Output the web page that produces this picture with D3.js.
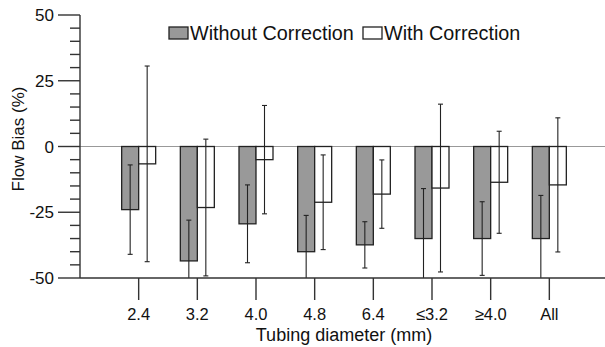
<!DOCTYPE html>
<html>
<head>
<meta charset="utf-8">
<script src="https://cdn.jsdelivr.net/npm/d3@7"></script>
<style>
  body { margin: 0; background: #fff; }
  text { font-family: "Liberation Sans", Arial, Helvetica, sans-serif; fill: #111; }
</style>
</head>
<body>
<div id="chart"></div>
<script>
const categories = ["2.4", "3.2", "4.0", "4.8", "6.4", "\u22643.2", "\u22654.0", "All"];
const withoutCorrection = [-24.0, -43.5, -29.4, -40.0, -37.4, -35.0, -35.0, -35.0];
const withoutErr = [17.0, 15.5, 14.8, 13.8, 8.8, 19.0, 14.0, 16.4];
const withCorrection = [-6.6, -23.2, -5.0, -21.2, -18.1, -15.8, -13.6, -14.6];
const withErr = [37.2, 26.0, 20.6, 18.0, 13.0, 31.9, 19.4, 25.5];
const yTicks = [-50, -25, 0, 25, 50];
const seriesNames = ["Without Correction", "With Correction"];

const width = 605, height = 347;
const plotLeft = 80, plotTop = 15, plotBottom = 278;

const svg = d3.select("#chart").append("svg")
    .attr("width", width)
    .attr("height", height);

const x = d3.scalePoint().domain(categories).range([plotLeft, 608]).padding(1);
const y = d3.scaleLinear().domain([-50, 50]).range([plotBottom, plotTop]);
const barW = 17;

svg.append("defs").append("clipPath").attr("id", "plot-clip")
    .append("rect")
    .attr("x", plotLeft).attr("y", plotTop)
    .attr("width", width - plotLeft).attr("height", plotBottom - plotTop);

// zero line
svg.append("line")
    .attr("x1", plotLeft).attr("x2", width)
    .attr("y1", y(0)).attr("y2", y(0))
    .attr("stroke", "#999").attr("stroke-width", 1);

const plot = svg.append("g").attr("clip-path", "url(#plot-clip)");

function drawSeries(values, errs, offset, fill) {
    plot.selectAll(null)
        .data(values)
        .enter()
        .append("rect")
        .attr("x", (d, i) => x(categories[i]) + offset)
        .attr("y", d => y(Math.max(0, d)))
        .attr("width", barW)
        .attr("height", d => Math.abs(y(d) - y(0)))
        .attr("fill", fill)
        .attr("stroke", "#222")
        .attr("stroke-width", 1.3);

    const g = plot.append("g").attr("stroke", "#222").attr("stroke-width", 1.1);
    values.forEach((v, i) => {
        const cx = x(categories[i]) + offset + barW / 2;
        const hi = v + errs[i], lo = v - errs[i];
        g.append("line").attr("x1", cx).attr("x2", cx).attr("y1", y(hi)).attr("y2", y(lo));
        g.append("line").attr("x1", cx - 2.5).attr("x2", cx + 2.5).attr("y1", y(hi)).attr("y2", y(hi));
        g.append("line").attr("x1", cx - 2.5).attr("x2", cx + 2.5).attr("y1", y(lo)).attr("y2", y(lo));
    });
}

drawSeries(withoutCorrection, withoutErr, -barW, "#999");
drawSeries(withCorrection, withErr, 0, "#fff");

// y axis
const yAxis = svg.append("g").attr("transform", `translate(${plotLeft},0)`);
yAxis.append("line")
    .attr("x1", 0).attr("x2", 0).attr("y1", plotTop).attr("y2", plotBottom)
    .attr("stroke", "#333").attr("stroke-width", 1.4);
d3.range(-50, 51, 5).forEach(v => {
    const major = v % 25 === 0;
    yAxis.append("line")
        .attr("x1", major ? -22 : -10).attr("x2", 0)
        .attr("y1", y(v)).attr("y2", y(v))
        .attr("stroke", "#333").attr("stroke-width", 1.4);
});
yAxis.selectAll(".ytick")
    .data(yTicks)
    .enter()
    .append("text")
    .attr("x", -26)
    .attr("y", d => y(d))
    .attr("dy", "0.36em")
    .attr("text-anchor", "end")
    .attr("font-size", 17)
    .text(d => d);

// x axis
const xAxis = svg.append("g");
xAxis.append("line")
    .attr("x1", plotLeft).attr("x2", width)
    .attr("y1", plotBottom).attr("y2", plotBottom)
    .attr("stroke", "#333").attr("stroke-width", 1.4);
categories.forEach(c => {
    xAxis.append("line")
        .attr("x1", x(c)).attr("x2", x(c))
        .attr("y1", plotBottom).attr("y2", plotBottom + 22)
        .attr("stroke", "#333").attr("stroke-width", 1.4);
    xAxis.append("text")
        .attr("x", x(c))
        .attr("y", 320)
        .attr("text-anchor", "middle")
        .attr("font-size", 16.5)
        .text(c);
});

// axis titles
svg.append("text")
    .attr("x", 344)
    .attr("y", 341)
    .attr("text-anchor", "middle")
    .attr("font-size", 18)
    .text("Tubing diameter (mm)");

svg.append("text")
    .attr("transform", "translate(24,139) rotate(-90)")
    .attr("text-anchor", "middle")
    .attr("font-size", 17)
    .text("Flow Bias (%)");

// legend
const legendX = [169, 363];
const legendFill = ["#999", "#fff"];
seriesNames.forEach((name, i) => {
    svg.append("rect")
        .attr("x", legendX[i]).attr("y", 27)
        .attr("width", 19).attr("height", 12)
        .attr("fill", legendFill[i])
        .attr("stroke", "#222").attr("stroke-width", 1.3);
    svg.append("text")
        .attr("x", legendX[i] + 21)
        .attr("y", 40)
        .attr("font-size", 19.8)
        .text(name);
});
</script>
</body>
</html>
